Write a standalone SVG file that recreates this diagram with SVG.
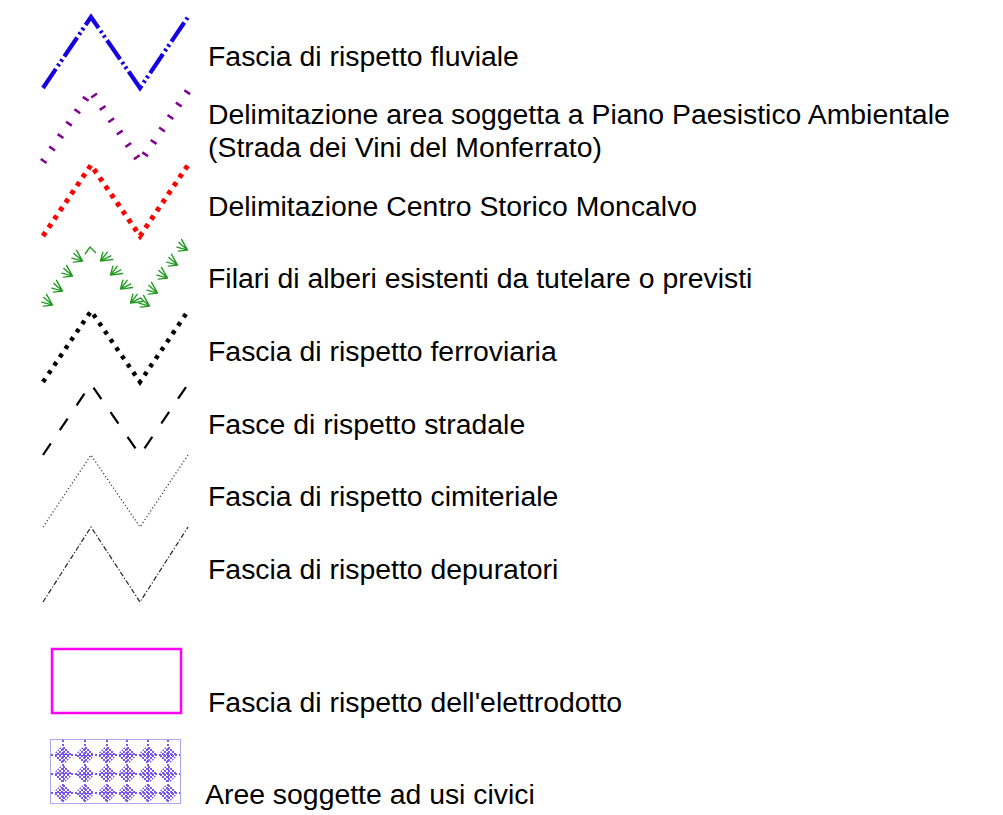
<svg xmlns="http://www.w3.org/2000/svg" xmlns:xlink="http://www.w3.org/1999/xlink" width="1003" height="815" viewBox="0 0 1003 815">
<style>
.lbl{font-family:"Liberation Sans",Arial,sans-serif;font-size:28.4px;fill:#000}
.z{fill:none;stroke-linejoin:miter}
</style>
<defs>
<pattern id="chk" x="0" y="0" width="4" height="4" patternUnits="userSpaceOnUse">
<rect x="0" y="0" width="2" height="2" fill="#7a55f0"/>
<rect x="2" y="2" width="2" height="2" fill="#7a55f0"/>
</pattern>
<g id="leaf" fill="none" stroke="#239a23" stroke-width="1.4" stroke-linecap="round">
<path d="M5.5,0 L-5.5,-5.5 M5.5,0 L-6,-1.5 M5.5,0 L-5,3.5 M5.5,0 L-1.5,6"/>
</g>
<g id="dia">
<polygon points="-2,-8 2,-8 8,-2 8,2 2,8 -2,8 -8,2 -8,-2" fill="url(#chk)"/>
</g>
</defs>
<rect width="1003" height="815" fill="#fff"/>
<g id="connectors">
<g id="row1">
<path class="z" d="M43,88 L91,17 L140,88 L188,17" stroke="#1400e0" stroke-width="4.2" stroke-dasharray="23 3.5 2.5 3 2.5 3.5"/>
</g>
<g id="row2">
<path class="z" d="M43,162 L91,91 L140,162 L188,91" stroke="#800090" stroke-width="7" stroke-dasharray="2.5 12.5"/>
</g>
<g id="row3">
<path class="z" d="M43,236 L91,165 L140,236 L188,165" stroke="#ff0000" stroke-width="5" stroke-dasharray="4.5 5.6"/>
</g>
<g id="row4">
<path d="M85,254 L90,247 L96,253" fill="none" stroke="#239a23" stroke-width="1.4"/>
<use xlink:href="#leaf" transform="translate(48,302) rotate(34)"/>
<use xlink:href="#leaf" transform="translate(58,288) rotate(34)"/>
<use xlink:href="#leaf" transform="translate(68,273) rotate(34)"/>
<use xlink:href="#leaf" transform="translate(78,258) rotate(34)"/>
<use xlink:href="#leaf" transform="translate(105,258) rotate(146)"/>
<use xlink:href="#leaf" transform="translate(115,272) rotate(146)"/>
<use xlink:href="#leaf" transform="translate(125,286) rotate(146)"/>
<use xlink:href="#leaf" transform="translate(135,300) rotate(146)"/>
<use xlink:href="#leaf" transform="translate(145,303) rotate(34)"/>
<use xlink:href="#leaf" transform="translate(153,290) rotate(34)"/>
<use xlink:href="#leaf" transform="translate(163,275) rotate(34)"/>
<use xlink:href="#leaf" transform="translate(173,262) rotate(34)"/>
<use xlink:href="#leaf" transform="translate(183,247) rotate(34)"/>
</g>
<g id="row5">
<path class="z" d="M43,382 L91,311 L140,382 L188,311" stroke="#000" stroke-width="4.5" stroke-dasharray="4 6"/>
</g>
<g id="row6">
<path class="z" d="M43,455 L91,384 L140,455 L188,384" stroke="#000" stroke-width="2.2" stroke-dasharray="14 16"/>
</g>
<g id="row7">
<path class="z" d="M43,527 L91,455 L140,527 L188,455" stroke="#333" stroke-width="1.2" stroke-dasharray="1.2 2.3"/>
</g>
<g id="row8">
<path class="z" d="M43,602 L91,527 L140,602 L188,527" stroke="#222" stroke-width="1.2" stroke-dasharray="5 2 1.2 2"/>
</g>
</g>
<g id="node-elettrodotto">
<rect x="52" y="649" width="129" height="64" fill="none" stroke="#ff00ff" stroke-width="2.5"/>
</g>
<g id="node-usicivici">
<rect x="50.5" y="739.5" width="130" height="64" fill="none" stroke="#a8a8f0" stroke-width="1"/>
<g stroke="#7a55f0" stroke-width="2" stroke-dasharray="2 2">
<path d="M63,740 V803 M85,740 V803 M107,740 V803 M127,740 V803 M148,740 V803 M168,740 V803"/>
<path d="M51,755 H180 M51,774 H180 M51,793 H180"/>
</g>
<use xlink:href="#dia" x="63" y="755"/><use xlink:href="#dia" x="85" y="755"/><use xlink:href="#dia" x="107" y="755"/><use xlink:href="#dia" x="127" y="755"/><use xlink:href="#dia" x="148" y="755"/><use xlink:href="#dia" x="168" y="755"/>
<use xlink:href="#dia" x="63" y="774"/><use xlink:href="#dia" x="85" y="774"/><use xlink:href="#dia" x="107" y="774"/><use xlink:href="#dia" x="127" y="774"/><use xlink:href="#dia" x="148" y="774"/><use xlink:href="#dia" x="168" y="774"/>
<use xlink:href="#dia" x="63" y="793"/><use xlink:href="#dia" x="85" y="793"/><use xlink:href="#dia" x="107" y="793"/><use xlink:href="#dia" x="127" y="793"/><use xlink:href="#dia" x="148" y="793"/><use xlink:href="#dia" x="168" y="793"/>
</g>
<g id="labels">
<text class="lbl" x="208" y="66">Fascia di rispetto fluviale</text>
<text class="lbl" x="208" y="124">Delimitazione area soggetta a Piano Paesistico Ambientale</text>
<text class="lbl" x="208" y="157">(Strada dei Vini del Monferrato)</text>
<text class="lbl" x="208" y="216">Delimitazione Centro Storico Moncalvo</text>
<text class="lbl" x="208" y="288">Filari di alberi esistenti da tutelare o previsti</text>
<text class="lbl" x="208" y="361">Fascia di rispetto ferroviaria</text>
<text class="lbl" x="208" y="434">Fasce di rispetto stradale</text>
<text class="lbl" x="208" y="506">Fascia di rispetto cimiteriale</text>
<text class="lbl" x="208" y="579">Fascia di rispetto depuratori</text>
<text class="lbl" x="208" y="712">Fascia di rispetto dell'elettrodotto</text>
<text class="lbl" x="205" y="804">Aree soggette ad usi civici</text>
</g>
</svg>
